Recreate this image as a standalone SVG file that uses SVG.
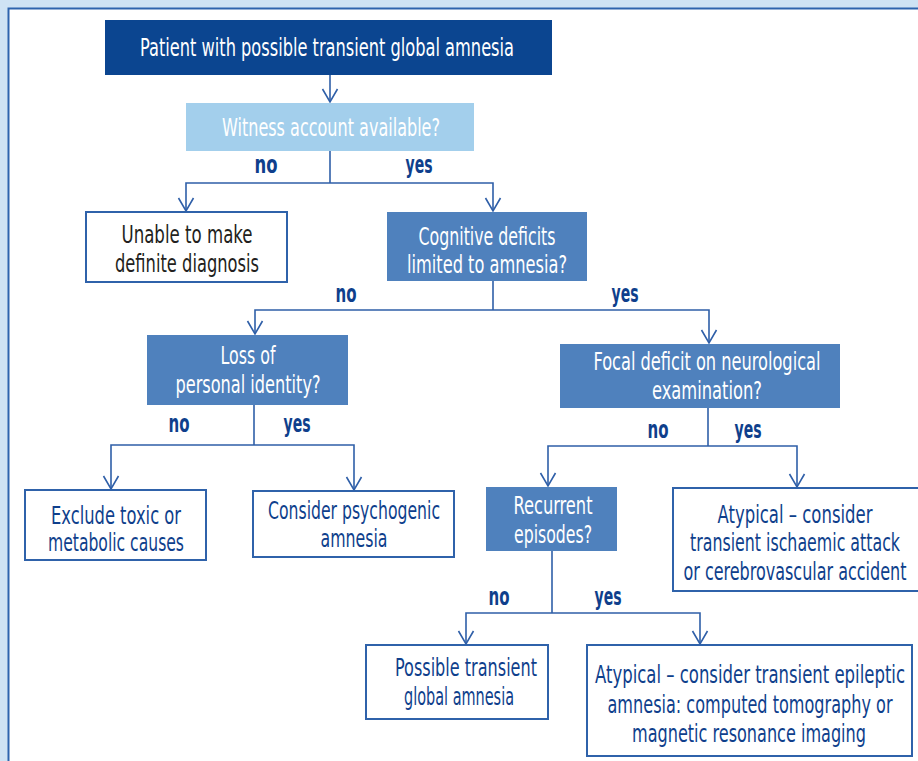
<svg xmlns="http://www.w3.org/2000/svg" width="918" height="761" viewBox="0 0 918 761">
<defs>
<marker id="arr" markerUnits="userSpaceOnUse" markerWidth="16" markerHeight="18" viewBox="-1 -1 16 18" refX="13" refY="8" orient="auto">
<path d="M0,0.5 L13,8 L0,15.5" fill="none" stroke="#2f5fa8" stroke-width="1.6"/>
</marker>
<style>
.t{font-family:"Liberation Sans Narrow","DejaVu Sans Condensed","Roboto Condensed","Liberation Sans",sans-serif;font-size:25px;text-anchor:middle}
.w{fill:#ffffff}
.d{fill:#0f3f8c}
.k{fill:#231f20}
.lbl{font-size:24px;font-weight:bold;fill:#0f3f8c}
.dark{fill:#0b4590}
.mid{fill:#4f81bd}
.light{fill:#a3cfec}
.out{fill:#ffffff;stroke:#2f62aa;stroke-width:2}
.c{fill:none;stroke:#2f5fa8;stroke-width:1.6}
</style>
</defs>
<rect x="0" y="0" width="918" height="761" fill="#cfe3f4"/>
<rect x="8.5" y="8.5" width="930" height="770" fill="#ffffff" stroke="#2e64ad" stroke-width="2"/>

<g id="connectors">
<path class="c" d="M330,75 V102" marker-end="url(#arr)"/>
<path class="c" d="M330,151 V183"/>
<path class="c" d="M330,183 H186 V211" marker-end="url(#arr)"/>
<path class="c" d="M330,183 H493 V211" marker-end="url(#arr)"/>
<path class="c" d="M493,281 V310"/>
<path class="c" d="M493,310 H255 V334" marker-end="url(#arr)"/>
<path class="c" d="M493,310 H709 V343" marker-end="url(#arr)"/>
<path class="c" d="M254,405 V445"/>
<path class="c" d="M254,445 H111 V489" marker-end="url(#arr)"/>
<path class="c" d="M254,445 H354 V490" marker-end="url(#arr)"/>
<path class="c" d="M708,408 V446"/>
<path class="c" d="M708,446 H548 V486" marker-end="url(#arr)"/>
<path class="c" d="M708,446 H797 V487" marker-end="url(#arr)"/>
<path class="c" d="M552,551 V613"/>
<path class="c" d="M552,613 H466 V644" marker-end="url(#arr)"/>
<path class="c" d="M552,613 H700 V644" marker-end="url(#arr)"/>
<text class="t lbl" x="266" y="173" textLength="23" lengthAdjust="spacingAndGlyphs">no</text>
<text class="t lbl" x="419" y="173" textLength="27" lengthAdjust="spacingAndGlyphs">yes</text>
<text class="t lbl" x="346" y="302" textLength="21" lengthAdjust="spacingAndGlyphs">no</text>
<text class="t lbl" x="625" y="302" textLength="27" lengthAdjust="spacingAndGlyphs">yes</text>
<text class="t lbl" x="179" y="432" textLength="21" lengthAdjust="spacingAndGlyphs">no</text>
<text class="t lbl" x="297" y="432" textLength="27" lengthAdjust="spacingAndGlyphs">yes</text>
<text class="t lbl" x="658" y="438" textLength="21" lengthAdjust="spacingAndGlyphs">no</text>
<text class="t lbl" x="748" y="438" textLength="27" lengthAdjust="spacingAndGlyphs">yes</text>
<text class="t lbl" x="499" y="605" textLength="21" lengthAdjust="spacingAndGlyphs">no</text>
<text class="t lbl" x="608" y="605" textLength="27" lengthAdjust="spacingAndGlyphs">yes</text>
</g>

<g id="n-patient">
<rect class="dark" x="105" y="20" width="447" height="55"/>
<text class="t w" x="327" y="56" textLength="374" lengthAdjust="spacingAndGlyphs">Patient with possible transient global amnesia</text>
</g>
<g id="n-witness">
<rect class="light" x="186" y="103" width="288" height="48"/>
<text class="t w" x="331" y="136" textLength="218" lengthAdjust="spacingAndGlyphs">Witness account available?</text>
</g>
<g id="n-unable">
<rect class="out" x="86" y="212" width="201" height="70"/>
<text class="t k" x="187" y="243" textLength="131" lengthAdjust="spacingAndGlyphs">Unable to make</text>
<text class="t k" x="187" y="272" textLength="144" lengthAdjust="spacingAndGlyphs">definite diagnosis</text>
</g>
<g id="n-cognitive">
<rect class="mid" x="387" y="212" width="200" height="69"/>
<text class="t w" x="487" y="245" textLength="137" lengthAdjust="spacingAndGlyphs">Cognitive deficits</text>
<text class="t w" x="487" y="273" textLength="160" lengthAdjust="spacingAndGlyphs">limited to amnesia?</text>
</g>
<g id="n-loss">
<rect class="mid" x="147" y="335" width="201" height="70"/>
<text class="t w" x="248" y="364" textLength="55" lengthAdjust="spacingAndGlyphs">Loss of</text>
<text class="t w" x="248" y="393" textLength="145" lengthAdjust="spacingAndGlyphs">personal identity?</text>
</g>
<g id="n-focal">
<rect class="mid" x="560" y="344" width="280" height="64"/>
<text class="t w" x="707" y="370" textLength="227" lengthAdjust="spacingAndGlyphs">Focal deficit on neurological</text>
<text class="t w" x="707" y="399" textLength="110" lengthAdjust="spacingAndGlyphs">examination?</text>
</g>
<g id="n-exclude">
<rect class="out" x="25" y="490" width="181" height="70"/>
<text class="t d" x="116" y="524" textLength="130" lengthAdjust="spacingAndGlyphs">Exclude toxic or</text>
<text class="t d" x="116" y="551" textLength="136" lengthAdjust="spacingAndGlyphs">metabolic causes</text>
</g>
<g id="n-psychogenic">
<rect class="out" x="253" y="491" width="201" height="66"/>
<text class="t d" x="354" y="519" textLength="172" lengthAdjust="spacingAndGlyphs">Consider psychogenic</text>
<text class="t d" x="354" y="547" textLength="67" lengthAdjust="spacingAndGlyphs">amnesia</text>
</g>
<g id="n-recurrent">
<rect class="mid" x="486" y="487" width="131" height="64"/>
<text class="t w" x="553" y="514" textLength="79" lengthAdjust="spacingAndGlyphs">Recurrent</text>
<text class="t w" x="553" y="543" textLength="78" lengthAdjust="spacingAndGlyphs">episodes?</text>
</g>
<g id="n-tia">
<rect class="out" x="673" y="488" width="260" height="103"/>
<text class="t d" x="795" y="523" textLength="155" lengthAdjust="spacingAndGlyphs">Atypical – consider</text>
<text class="t d" x="795" y="551" textLength="210" lengthAdjust="spacingAndGlyphs">transient ischaemic attack</text>
<text class="t d" x="795" y="580" textLength="223" lengthAdjust="spacingAndGlyphs">or cerebrovascular accident</text>
</g>
<g id="n-tga">
<rect class="out" x="366" y="645" width="182" height="74"/>
<text class="t d" x="466" y="676" textLength="142" lengthAdjust="spacingAndGlyphs">Possible transient</text>
<text class="t d" x="459" y="705" textLength="110" lengthAdjust="spacingAndGlyphs">global amnesia</text>
</g>
<g id="n-epileptic">
<rect class="out" x="587" y="645" width="325" height="111"/>
<text class="t d" x="750" y="683" textLength="310" lengthAdjust="spacingAndGlyphs">Atypical – consider transient epileptic</text>
<text class="t d" x="750" y="713" textLength="285" lengthAdjust="spacingAndGlyphs">amnesia: computed tomography or</text>
<text class="t d" x="749" y="742" textLength="234" lengthAdjust="spacingAndGlyphs">magnetic resonance imaging</text>
</g>
</svg>
